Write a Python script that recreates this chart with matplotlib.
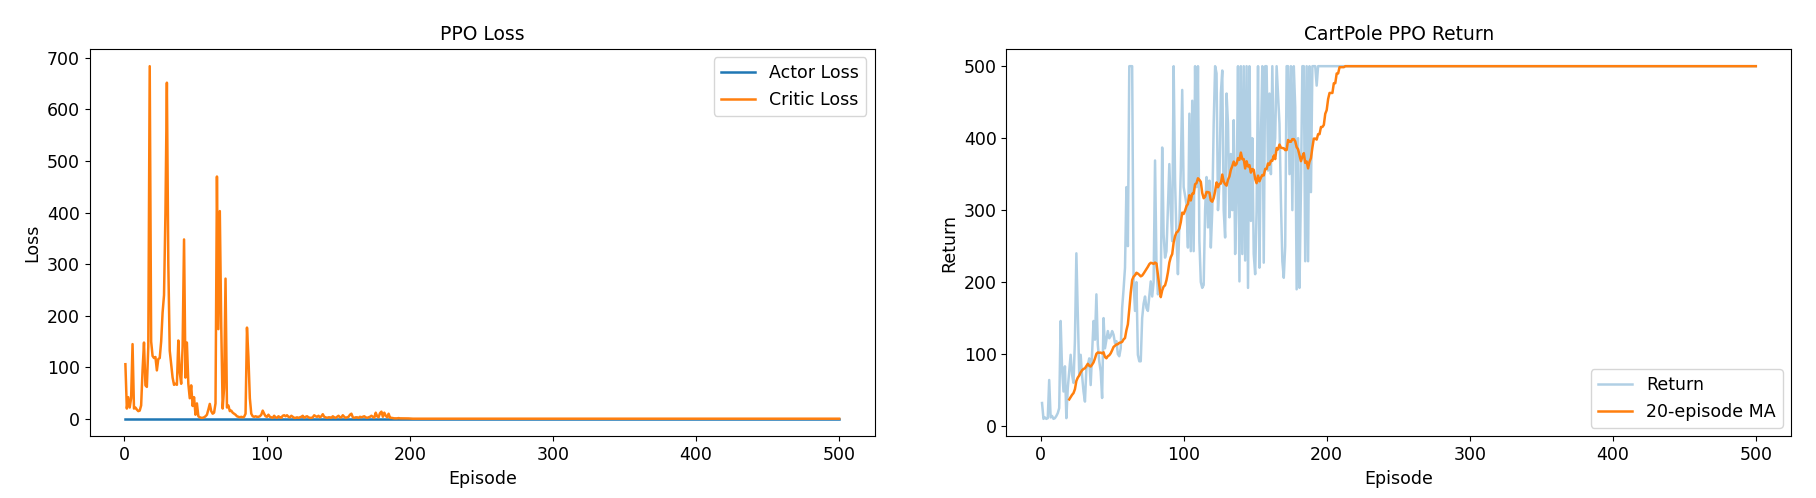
import numpy as np
import pandas as pd
import matplotlib
matplotlib.use('Agg')
import matplotlib.pyplot as plt

# Episodes 1..500
N_EPISODES = 500
episodes = np.arange(1, N_EPISODES + 1)

# Critic loss (episodes 1..200), flat near zero afterwards
critic_loss_head = [
    106, 20, 42, 22, 40, 145, 20, 22, 18, 15,
    16, 26, 95, 148, 65, 62, 140, 684, 150, 122,
    118, 120, 94, 116, 118, 150, 206, 240, 400, 652,
    300, 132, 105, 80, 66, 68, 66, 152, 90, 68,
    140, 348, 80, 148, 68, 40, 65, 25, 42, 8,
    30, 5, 3, 2, 2, 3, 5, 8, 18, 29,
    15, 10, 12, 30, 470, 174, 403, 180, 20, 60,
    272, 22, 26, 15, 16, 12, 10, 8, 5, 4,
    3, 4, 3, 4, 10, 177, 120, 40, 10, 5,
    4, 5, 4, 4, 5, 8, 16, 10, 5, 4,
    8, 4, 3, 2, 6, 3, 2, 5, 3, 2,
    6, 7, 5, 7, 4, 3, 6, 4, 2, 2,
    3, 2, 3, 4, 6, 2, 4, 5, 3, 2,
    2, 3, 7, 5, 4, 6, 3, 5, 9, 4,
    3, 2, 3, 3, 2, 5, 3, 2, 4, 6,
    3, 3, 7, 4, 2, 3, 4, 8, 10, 3,
    2, 3, 3, 2, 4, 3, 4, 5, 3, 2,
    3, 4, 6, 4, 2, 12, 5, 3, 11, 14,
    4, 12, 6, 3, 10, 2, 2, 1.5, 1, 1,
    1, 1.5, 1, 1, 1, 1, 1, 0.8, 0.8, 0.6,
]
critic_loss = critic_loss_head + [0.3] * (N_EPISODES - len(critic_loss_head))
actor_loss = [0.0] * N_EPISODES

# Episode returns (episodes 1..195), solved at 500 afterwards
returns_head = [
    32, 10, 12, 10, 11, 64, 12, 14, 10, 11,
    14, 18, 25, 146, 80, 48, 83, 11, 53, 76,
    99, 71, 60, 120, 240, 155, 71, 99, 70, 48,
    34, 80, 85, 94, 57, 100, 146, 120, 183, 113,
    90, 76, 39, 150, 108, 120, 132, 122, 125, 132,
    127, 115, 118, 100, 97, 108, 164, 190, 220, 332,
    250, 500, 500, 500, 200, 160, 200, 99, 90, 90,
    150, 170, 180, 164, 160, 180, 201, 180, 200, 369,
    225, 183, 190, 192, 387, 266, 234, 243, 304, 364,
    300, 257, 500, 341, 262, 211, 280, 355, 467, 332,
    320, 308, 248, 434, 243, 452, 243, 500, 332, 500,
    257, 200, 192, 196, 300, 346, 276, 341, 248, 299,
    420, 500, 490, 300, 336, 462, 494, 300, 262, 462,
    420, 290, 378, 300, 425, 239, 320, 500, 201, 500,
    239, 500, 230, 500, 192, 500, 285, 400, 239, 211,
    300, 500, 220, 400, 500, 227, 500, 500, 355, 462,
    350, 500, 378, 400, 500, 460, 420, 313, 229, 206,
    250, 500, 500, 350, 500, 300, 500, 443, 190, 400,
    192, 330, 500, 500, 229, 500, 229, 500, 325, 500,
    500, 500, 473, 500, 500,
]
returns = returns_head + [500] * (N_EPISODES - len(returns_head))
MA_WINDOW = 20
returns_ma = pd.Series(returns).rolling(MA_WINDOW).mean()

fig, (ax1, ax2) = plt.subplots(1, 2, figsize=(18.16, 4.98), dpi=100)
plt.subplots_adjust(left=0.0494, right=0.9865, bottom=0.1235, top=0.9025, wspace=0.1675)

FS = 12.5

# Loss plot
ax1.plot(episodes, actor_loss, color='#1f77b4', linewidth=1.8, label='Actor Loss')
ax1.plot(episodes, critic_loss, color='#ff7f0e', linewidth=1.8, label='Critic Loss')
ax1.set_title('PPO Loss', fontsize=13.5)
ax1.set_xlabel('Episode', fontsize=FS)
ax1.set_ylabel('Loss', fontsize=FS)
ax1.tick_params(labelsize=FS)
ax1.legend(loc='upper right', fontsize=FS)

# Return plot
ax2.plot(episodes, returns, color='#1f77b4', alpha=0.35, linewidth=1.8, label='Return')
ax2.plot(episodes, returns_ma, color='#ff7f0e', linewidth=1.8, label=f'{MA_WINDOW}-episode MA')
ax2.set_title('CartPole PPO Return', fontsize=13.5)
ax2.set_xlabel('Episode', fontsize=FS)
ax2.set_ylabel('Return', fontsize=FS)
ax2.tick_params(labelsize=FS)
ax2.legend(loc='lower right', fontsize=FS)

fig.savefig('out.png', dpi=100)
